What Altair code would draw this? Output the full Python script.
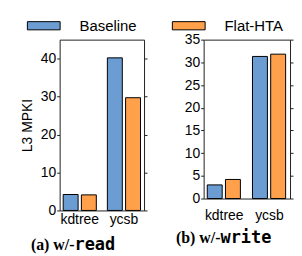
import altair as alt
import pandas as pd

categories = ["kdtree", "ycsb"]
series = ["Baseline", "Flat-HTA"]
read_baseline = [4.2, 40.2]
read_flat = [4.1, 29.7]
write_baseline = [3.0, 31.3]
write_flat = [4.2, 31.8]
read_ticks = [0, 10, 20, 30, 40]
write_ticks = [0, 5, 10, 15, 20, 25, 30, 35]

BLUE = "#6c9dd2"
ORANGE = "#ffa04b"
FONT = "Liberation Sans"


def make_df(b, f):
    rows = []
    for c, v in zip(categories, b):
        rows.append({"category": c, "series": series[0], "value": v})
    for c, v in zip(categories, f):
        rows.append({"category": c, "series": series[1], "value": v})
    return pd.DataFrame(rows)


def panel(df, ymax, ticks, width, height, ytitle, label_pad, cap_a, cap_b, split_x, cap_y, top_pad):
    color = alt.Color(
        "series:N",
        sort=series,
        scale=alt.Scale(domain=series, range=[BLUE, ORANGE]),
        legend=alt.Legend(
            title=None, orient="none", legendX=-25, legendY=-23, direction="horizontal",
            symbolType="M-2,-0.5H2V0.5H-2Z", symbolSize=272, symbolStrokeColor="black",
            symbolStrokeWidth=1, symbolOpacity=1, labelFontSize=15, labelFont=FONT,
            labelColor="black", labelOffset=27, columnPadding=33, padding=0,
        ),
    )
    yaxis = alt.Axis(
        values=ticks, title=ytitle, grid=False, domain=False, tickSize=3,
        tickColor="#222", labelFontSize=14, labelFont=FONT, labelColor="black",
        labelPadding=1, titleFontSize=14, titleFont=FONT, titleFontWeight="normal",
        titleColor="black", titlePadding=6,
    )
    bars = alt.Chart(df).mark_bar(stroke="black", strokeWidth=1).encode(
        x=alt.X(
            "category:N", sort=categories,
            scale=alt.Scale(paddingInner=0.25, paddingOuter=0.08),
            axis=alt.Axis(title=None, labelAngle=0, ticks=False, domain=False,
                          labelFontSize=14, labelFont=FONT, labelColor="black",
                          labelPadding=label_pad),
        ),
        xOffset=alt.XOffset("series:N", sort=series, scale=alt.Scale(paddingInner=0.18)),
        y=alt.Y("value:Q", scale=alt.Scale(domain=[0, ymax], nice=False), axis=yaxis),
        color=color,
    )
    rticks = alt.Chart(df).mark_point(opacity=0).encode(
        x=alt.value(0),
        y=alt.Y("value:Q", scale=alt.Scale(domain=[0, ymax], nice=False),
                axis=alt.Axis(orient="right", values=ticks, labels=False, title=None,
                              grid=False, domain=False, tickSize=3, tickColor="#222")),
    )
    ta = alt.Chart(pd.DataFrame({"t": [cap_a]})).mark_text(
        font="Liberation Serif", fontWeight="bold", fontSize=16, align="right",
        baseline="middle", color="black",
    ).encode(text="t:N", x=alt.value(split_x), y=alt.value(cap_y))
    tb = alt.Chart(pd.DataFrame({"t": [cap_b]})).mark_text(
        font="DejaVu Sans Mono", fontWeight="bold", fontSize=17, align="left",
        baseline="middle", color="black",
    ).encode(text="t:N", x=alt.value(split_x), y=alt.value(cap_y))
    layers = [bars, rticks, ta, tb]
    if top_pad:
        spacer = alt.Chart(pd.DataFrame({"t": ["."]})).mark_text(
            opacity=0, fontSize=2, baseline="top"
        ).encode(text="t:N", x=alt.value(10), y=alt.value(-top_pad))
        layers.append(spacer)
    return alt.layer(*layers).resolve_axis(y="independent").properties(
        width=width, height=height
    )


left = panel(make_df(read_baseline, read_flat), 45, read_ticks, 85, 172, "L3 MPKI", 2,
             "(a) w/-", "read", 15, 207, 0)
right = panel(make_df(write_baseline, write_flat), 35, write_ticks, 87, 160, None, 10,
              "(b) w/-", "write", 17, 200, 30)

chart = alt.hconcat(left, right, spacing=27).configure_view(
    stroke="#222", strokeWidth=1
).properties(padding={"left": 11, "top": 0, "right": 0, "bottom": 0})

chart.save("out.html", embed_options={"renderer": "svg", "actions": False})
